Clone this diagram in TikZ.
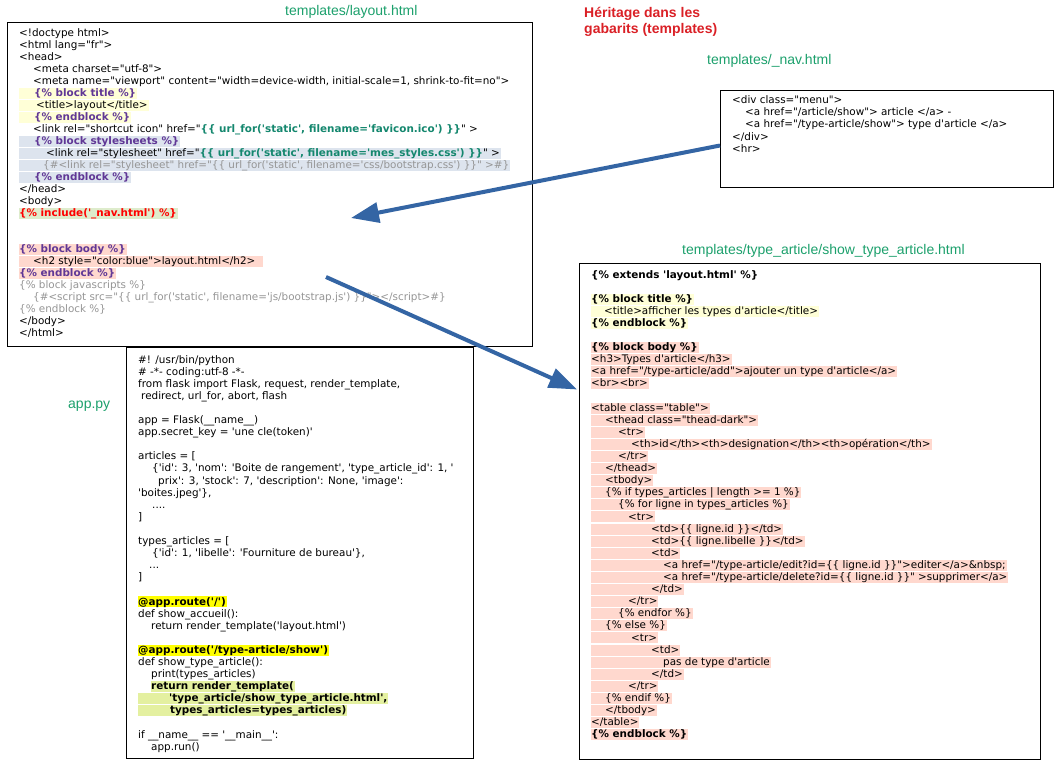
\documentclass[tikz,border=0pt]{standalone}
\usepackage{fontspec}
\usetikzlibrary{arrows.meta,calc}

\newfontfamily\codefont{DejaVu Sans}[Ligatures=TeXOff]
\newfontfamily\titlefont{Liberation Sans}

\definecolor{filegreen}{RGB}{28,160,108}
\definecolor{headred}{RGB}{218,32,38}
\definecolor{flowblue}{RGB}{52,101,164}
\definecolor{tagpurple}{RGB}{96,55,150}
\definecolor{exprteal}{RGB}{20,135,110}
\definecolor{cmtgray}{RGB}{150,150,150}
\definecolor{incred}{RGB}{255,0,0}
\definecolor{hlyellow}{RGB}{255,255,215}
\definecolor{hlblue}{RGB}{221,228,238}
\definecolor{hlgreen}{RGB}{222,236,204}
\definecolor{hlsalmon}{RGB}{255,216,206}
\definecolor{hlbright}{RGB}{255,255,0}
\definecolor{hllime}{RGB}{228,240,160}

% one line of code: indent (pt) then text
\newcommand\codestrut{\rule[-2.4pt]{0pt}{11pt}}
\newcommand\cl[2]{\hbox{\codestrut\hspace*{#1pt}#2}}
\newcommand\hl[3]{\hbox{{\fboxsep=0pt\colorbox{#1}{\codestrut\hspace*{#2pt}#3\hspace*{1pt}}}}}
\newcommand\blankline{\hbox{\codestrut}}
\newcommand\tagp[1]{\textcolor{tagpurple}{\bfseries #1}}
\newcommand\expr[1]{\textcolor{exprteal}{\bfseries #1}}
\newcommand\cmt[1]{\textcolor{cmtgray}{#1}}

\tikzset{
  filebox/.style={draw=black, line width=1pt, fill=white, inner sep=0pt, anchor=north west},
  code/.style={anchor=base west, inner sep=0pt, font=\codefont\fontsize{10.4}{12}\selectfont},
  filename/.style={anchor=base west, inner sep=0pt, text=filegreen, font=\titlefont\fontsize{14}{16}\selectfont},
  flow/.style={draw=flowblue, line width=4pt, -{Triangle[length=28pt,width=20pt]}},
}

\begin{document}
\begin{tikzpicture}[x=1pt,y=-1pt]
\useasboundingbox (0,0) rectangle (1057,765);

% file frames
\node[filebox, minimum width=525pt, minimum height=324pt] (layout) at (7,22) {};
\node[filebox, minimum width=333pt, minimum height=97pt] (nav) at (720,90) {};
\node[filebox, minimum width=461pt, minimum height=496pt] (show) at (579,263) {};
\node[filebox, minimum width=347pt, minimum height=411pt] (app) at (126,347) {};

% captions
\node[filename] (layoutname) at (285,16) {templates/layout.html};
\node[filename] (navname) at (707,65) {templates/\_nav.html};
\node[filename] (showname) at (682,254) {templates/type\_article/show\_type\_article.html};
\node[filename] (appname) at (68,408) {app.py};
\node[anchor=base west, inner sep=0pt, text=headred, font=\titlefont\bfseries\fontsize{14}{16}\selectfont] (heading) at (584,18)
  {\vtop{\baselineskip=16pt\hbox{Héritage dans les}\hbox{gabarits (templates)}}};

% templates/layout.html
\node[code] (layoutcode) at (19,37) {\vtop{\baselineskip=12pt\lineskiplimit=-100pt
\cl{0}{<!doctype html>}
\cl{0}{<html lang="fr">}
\cl{0}{<head>}
\cl{14}{<meta charset="utf-8">}
\cl{14}{<meta name="viewport" content="width=device-width, initial-scale=1, shrink-to-fit=no">}
\hl{hlyellow}{15}{\tagp{\{\% block title \%\}}}
\hl{hlyellow}{17}{<title>layout</title>}
\hl{hlyellow}{15}{\tagp{\{\% endblock \%\}}}
\cl{14}{<link rel="shortcut icon" href="\expr{\{\{ url\_for('static', filename='favicon.ico') \}\}}" >}
\hl{hlblue}{15}{\tagp{\{\% block stylesheets \%\}}}
\hl{hlblue}{27}{<link rel="stylesheet" href="\expr{\{\{ url\_for('static', filename='mes\_styles.css') \}\}}" >}
\hl{hlblue}{24}{\cmt{\{\#<link rel="stylesheet" href="\{\{ url\_for('static', filename='css/bootstrap.css') \}\}" >\#\}}}
\hl{hlblue}{15}{\tagp{\{\% endblock \%\}}}
\cl{0}{</head>}
\cl{0}{<body>}
\hl{hlgreen}{0}{\textcolor{incred}{\bfseries \{\% include('\_nav.html') \%\}}}
\blankline
\blankline
\hl{hlsalmon}{0}{\tagp{\{\% block body \%\}}}
\hl{hlsalmon}{14}{<h2 style="color:blue">layout.html</h2>\hspace*{7pt}}
\hl{hlsalmon}{0}{\tagp{\{\% endblock \%\}}}
\cl{0}{\cmt{\{\% block javascripts \%\}}}
\cl{14}{\cmt{\{\#<script src="\{\{ url\_for('static', filename='js/bootstrap.js') \}\}"></script>\#\}}}
\cl{0}{\cmt{\{\% endblock \%\}}}
\cl{0}{</body>}
\cl{0}{</html>}
}};

% templates/_nav.html
\node[code] (navcode) at (732,104) {\vtop{\baselineskip=12pt\lineskiplimit=-100pt
\cl{0}{<div class="menu">}
\cl{13}{<a href="/article/show"> article </a> -}
\cl{13}{<a href="/type-article/show"> type d'article </a>}
\cl{0}{</div>}
\cl{0}{<hr>}
}};

% templates/type_article/show_type_article.html
\node[code] (showcode) at (591,278) {\vtop{\baselineskip=12.1pt\lineskiplimit=-100pt
\cl{0}{\textbf{\{\% extends 'layout.html' \%\}}}
\blankline
\hl{hlyellow}{0}{\textbf{\{\% block title \%\}}}
\hl{hlyellow}{13}{<title>afficher les types d'article</title>}
\hl{hlyellow}{0}{\textbf{\{\% endblock \%\}}}
\blankline
\hl{hlsalmon}{0}{\textbf{\{\% block body \%\}}}
\hl{hlsalmon}{0}{<h3>Types d'article</h3>}
\hl{hlsalmon}{0}{<a href="/type-article/add">ajouter un type d'article</a>}
\hl{hlsalmon}{0}{<br><br>}
\blankline
\hl{hlsalmon}{0}{<table class="table">}
\hl{hlsalmon}{14}{<thead class="thead-dark">}
\hl{hlsalmon}{27}{<tr>}
\hl{hlsalmon}{40}{<th>id</th><th>designation</th><th>opération</th>}
\hl{hlsalmon}{27}{</tr>}
\hl{hlsalmon}{14}{</thead>}
\hl{hlsalmon}{14}{<tbody>}
\hl{hlsalmon}{14}{\{\% if types\_articles | length >= 1 \%\}}
\hl{hlsalmon}{27}{\{\% for ligne in types\_articles \%\}}
\hl{hlsalmon}{37}{<tr>}
\hl{hlsalmon}{60}{<td>\{\{ ligne.id \}\}</td>}
\hl{hlsalmon}{60}{<td>\{\{ ligne.libelle \}\}</td>}
\hl{hlsalmon}{60}{<td>}
\hl{hlsalmon}{72}{<a href="/type-article/edit?id=\{\{ ligne.id \}\}">editer</a>\&nbsp;}
\hl{hlsalmon}{72}{<a href="/type-article/delete?id=\{\{ ligne.id \}\}" >supprimer</a>}
\hl{hlsalmon}{60}{</td>}
\hl{hlsalmon}{37}{</tr>}
\hl{hlsalmon}{27}{\{\% endfor \%\}}
\hl{hlsalmon}{14}{\{\% else \%\}}
\hl{hlsalmon}{40}{<tr>}
\hl{hlsalmon}{60}{<td>}
\hl{hlsalmon}{72}{pas de type d'article}
\hl{hlsalmon}{60}{</td>}
\hl{hlsalmon}{37}{</tr>}
\hl{hlsalmon}{14}{\{\% endif \%\}}
\hl{hlsalmon}{14}{</tbody>}
\hl{hlsalmon}{0}{</table>}
\hl{hlsalmon}{0}{\textbf{\{\% endblock \%\}}}
}};

% app.py
\node[code] (appcode) at (138,363) {\vtop{\baselineskip=12.1pt\lineskiplimit=-100pt
\cl{0}{\#! /usr/bin/python}
\cl{0}{\# -*- coding:utf-8 -*-}
\cl{0}{from flask import Flask, request, render\_template,}
\cl{3}{redirect, url\_for, abort, flash}
\blankline
\cl{0}{app = Flask(\_\_name\_\_)}
\cl{0}{app.secret\_key = 'une cle(token)'}
\blankline
\cl{0}{articles = [}
\cl{14}{\{'id': 3, 'nom': 'Boite de rangement', 'type\_article\_id': 1, '}
\cl{20}{prix': 3, 'stock': 7, 'description': None, 'image':}
\cl{0}{'boites.jpeg'\},}
\cl{14}{....}
\cl{0}{]}
\blankline
\cl{0}{types\_articles = [}
\cl{14}{\{'id': 1, 'libelle': 'Fourniture de bureau'\},}
\cl{11}{...}
\cl{0}{]}
\blankline
\hl{hlbright}{0}{\textbf{@app.route('/')}}
\cl{0}{def show\_accueil():}
\cl{13}{return render\_template('layout.html')}
\blankline
\hl{hlbright}{0}{\textbf{@app.route('/type-article/show')}}
\cl{0}{def show\_type\_article():}
\cl{13}{print(types\_articles)}
\cl{13}{\hl{hllime}{0}{\textbf{return render\_template(}}}
\hl{hllime}{31}{\textbf{'type\_article/show\_type\_article.html',}}
\hl{hllime}{32}{\textbf{types\_articles=types\_articles)}}
\blankline
\cl{0}{if \_\_name\_\_ == '\_\_main\_\_':}
\cl{13}{app.run()}
}};

% inheritance arrows
\coordinate (navtail) at ($(nav.west)+(0,6.5)$);
\coordinate (includetip) at (351,218);
\draw[flow] (navtail) -- (includetip);
\coordinate (bodytail) at (326,277);
\coordinate (showtip) at ($(show.west)+(-2,-122)$);
\draw[flow] (bodytail) -- (showtip);
\end{tikzpicture}
\end{document}
